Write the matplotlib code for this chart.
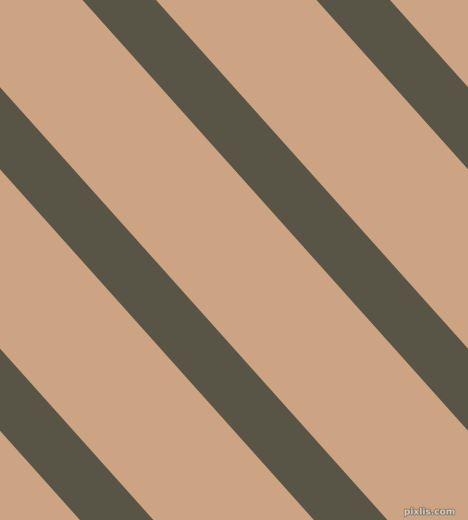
import matplotlib
matplotlib.use("Agg")
import matplotlib.pyplot as plt
import matplotlib.patheffects as pe

# canvas size in pixels
width_px = 468
height_px = 520

# stripe geometry (pixels): right edge of each stripe where it meets the top (y=0)
stripe_right_edges = [-312.0, -78.0, 156.0, 390.0]
stripe_width = 73.5          # horizontal width of a stripe
slope_dx_dy = 0.895          # horizontal shift per pixel down

background_color = "#cda483"
stripe_color = "#585546"


def stripe_polygon(right_edge):
    left_edge = right_edge - stripe_width
    shift = slope_dx_dy * height_px
    xs = [left_edge, right_edge, right_edge + shift, left_edge + shift]
    ys = [0, 0, height_px, height_px]
    return xs, ys


fig = plt.figure(figsize=(width_px / 100, height_px / 100), dpi=100)
ax = fig.add_axes([0, 0, 1, 1])
ax.set_facecolor(background_color)
fig.patch.set_facecolor(background_color)

for edge in stripe_right_edges:
    xs, ys = stripe_polygon(edge)
    ax.fill(xs, ys, color=stripe_color, linewidth=0)

ax.set_xlim(0, width_px)
ax.set_ylim(height_px, 0)
ax.axis("off")

ax.text(455, 512, "pixlis.com", color="#cfcabf", fontsize=6.5, ha="right",
        va="center", fontweight="bold",
        path_effects=[pe.withStroke(linewidth=1.2, foreground="#8a7a66")])

fig.savefig("out.png", dpi=100, facecolor=background_color)
